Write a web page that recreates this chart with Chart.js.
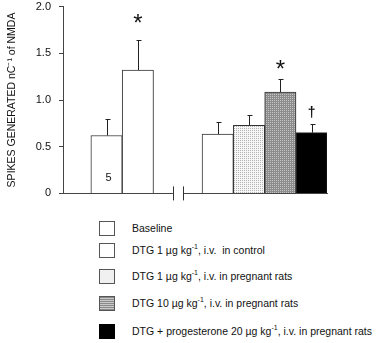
<!DOCTYPE html>
<html><head><meta charset="utf-8">
<script src="https://cdn.jsdelivr.net/npm/chart.js@4/dist/chart.umd.min.js"></script>
<style>
html,body{margin:0;padding:0;background:#fff;}
#wrap{position:relative;width:387px;height:343px;overflow:hidden;}
#c{position:absolute;left:0;top:-8px;}
.box{position:absolute;left:99px;width:14px;height:13px;border:1px solid #555;}
.lab{position:absolute;left:132px;font:10.5px "Liberation Sans",Arial,sans-serif;color:#111;white-space:pre;line-height:12px;}
.lab sup{font-size:7px;vertical-align:5px;line-height:0;}
</style></head>
<body><div id="wrap"><canvas id="c" width="387" height="216"></canvas><div id="legend"></div></div>
<script>
// ---- data ----
const categories = ['Baseline (control)', 'DTG 1 µg/kg control', 'Baseline (pregnant)', 'DTG 1 µg/kg pregnant', 'DTG 10 µg/kg pregnant', 'DTG + progesterone 20 µg/kg pregnant'];
const barPositions = [0, 1, 3.55, 4.55, 5.55, 6.55];
const meanValues = [0.62, 1.32, 0.635, 0.73, 1.085, 0.65];
const semValues = [0.18, 0.32, 0.125, 0.11, 0.145, 0.09];
const markLabels = ['', '*', '', '', '*', '†'];
const markValues = [null, 1.86, null, null, 1.37, 0.86];
const nLabels = ['5', '', '', '', '', ''];
const nValues = [0.17, null, null, null, null, null];
const yTickLabels = ['0', '0.5', '1.0', '1.5', '2.0'];
const yTitle = 'SPIKES GENERATED nC\u207B\u00B9 of NMDA';
const legendLabels = [
  ['Baseline', '', ''],
  ['DTG 1 \u00B5g kg', '-1', ', i.v.  in control'],
  ['DTG 1 \u00B5g kg', '-1', ', i.v. in pregnant rats'],
  ['DTG 10 \u00B5g kg', '-1', ', i.v. in pregnant rats'],
  ['DTG + progesterone 20 \u00B5g kg', '-1', ', i.v. in pregnant rats']
];
const breakAt = 2.28;

// ---- patterns ----
function makePattern(bg, dot, size) {
  const c = document.createElement('canvas'); c.width = size; c.height = size;
  const g = c.getContext('2d');
  g.fillStyle = bg; g.fillRect(0, 0, size, size);
  g.fillStyle = dot; g.fillRect(0, 0, 1, 1);
  return document.getElementById('c').getContext('2d').createPattern(c, 'repeat');
}
const lightDots = makePattern('#f6f6f6', '#b4b4b4', 2);
const darkDots = makePattern('#8c8c8c', '#c4c4c4', 2);
const barFills = ['#ffffff', '#ffffff', '#ffffff', lightDots, darkDots, '#000000'];

const FONT = '"Liberation Sans", Arial, sans-serif';

const overlay = {
  id: 'overlay',
  afterDatasetsDraw(chart) {
    const { ctx, scales: { x, y } } = chart;
    ctx.save();
    ctx.strokeStyle = '#222'; ctx.lineWidth = 1;
    barPositions.forEach((p, i) => {
      const px = Math.round(x.getPixelForValue(p)) + 0.5;
      const y0 = y.getPixelForValue(meanValues[i]);
      const y1 = Math.round(y.getPixelForValue(meanValues[i] + semValues[i])) + 0.5;
      ctx.beginPath();
      ctx.moveTo(px, y0); ctx.lineTo(px, y1);
      ctx.moveTo(px - 2, y1); ctx.lineTo(px + 3, y1);
      ctx.stroke();
    });
    ctx.fillStyle = '#111'; ctx.textAlign = 'center'; ctx.textBaseline = 'middle';
    barPositions.forEach((p, i) => {
      if (markLabels[i]) {
        const isStar = markLabels[i] === '*';
        ctx.font = isStar ? '24px ' + FONT : 'bold 14px ' + FONT;
        const px = x.getPixelForValue(p);
        const py = y.getPixelForValue(markValues[i]);
        ctx.fillText(markLabels[i], px, py + (isStar ? 5 : 0));
      }
      if (nLabels[i]) {
        ctx.font = '11px ' + FONT;
        ctx.fillText(nLabels[i], x.getPixelForValue(p) + 2, y.getPixelForValue(nValues[i]));
      }
    });
    // axis break
    const bx = x.getPixelForValue(breakAt);
    const by = y.getPixelForValue(0);
    ctx.fillStyle = '#fff';
    ctx.fillRect(bx - 5, by - 2, 10, 4);
    ctx.strokeStyle = '#333';
    ctx.beginPath();
    ctx.moveTo(Math.round(bx - 5) + 0.5, by - 7); ctx.lineTo(Math.round(bx - 5) + 0.5, by + 7);
    ctx.moveTo(Math.round(bx + 5) + 0.5, by - 7); ctx.lineTo(Math.round(bx + 5) + 0.5, by + 7);
    ctx.stroke();
    ctx.restore();
  }
};

new Chart(document.getElementById('c'), {
  type: 'bar',
  data: {
    datasets: [{
      label: 'Spikes',
      data: barPositions.map((p, i) => ({ x: p, y: meanValues[i] })),
      backgroundColor: barFills,
      borderColor: '#333',
      borderWidth: 1,
      borderSkipped: 'start',
      categoryPercentage: 1,
      barPercentage: 1
    }]
  },
  options: {
    responsive: false, animation: false,
    layout: { padding: { top: 0, right: 60, bottom: 12, left: 0 } },
    plugins: { legend: { display: false }, tooltip: { enabled: false } },
    scales: {
      x: {
        type: 'linear', min: -1.39, max: 7.04, offset: false,
        ticks: { display: false },
        grid: { display: false, drawTicks: false },
        border: { display: true, color: '#444', width: 1 },
        afterFit(s) { s.height = 0; }
      },
      y: {
        min: 0, max: 2,
        ticks: { stepSize: 0.5, callback: (v, i) => yTickLabels[i], font: { size: 11, family: FONT }, color: '#111', padding: 8 },
        grid: { drawOnChartArea: false, drawTicks: true, tickLength: 4, color: '#444' },
        border: { color: '#444', width: 1 },
        title: { display: true, text: yTitle, font: { size: 10.5, family: FONT }, color: '#111', padding: { top: 6, bottom: 0 } },
        afterFit(s) { s.width = 63; }
      }
    }
  },
  plugins: [overlay]
});

// ---- legend ----
const rowCenters = [228, 250, 276, 303, 331];
const boxStyles = [
  'background:#fff;',
  'background:#fff;',
  'background:#f0f0f0 radial-gradient(circle, #b8b8b8 0.5px, transparent 0.7px) 0 0/2px 2px;',
  'background:repeating-linear-gradient(#8a8a8a 0 1px, #c8c8c8 1px 2px);',
  'background:#000;border-color:#000;'
];
const leg = document.getElementById('legend');
legendLabels.forEach((parts, i) => {
  const b = document.createElement('div');
  b.className = 'box'; b.style.cssText = boxStyles[i] + 'top:' + (rowCenters[i] - 7.5) + 'px;';
  leg.appendChild(b);
  const t = document.createElement('div');
  t.className = 'lab'; t.style.top = (rowCenters[i] - 6) + 'px';
  t.appendChild(document.createTextNode(parts[0]));
  if (parts[1]) { const s = document.createElement('sup'); s.textContent = parts[1]; t.appendChild(s); }
  t.appendChild(document.createTextNode(parts[2]));
  leg.appendChild(t);
});
</script></body></html>
